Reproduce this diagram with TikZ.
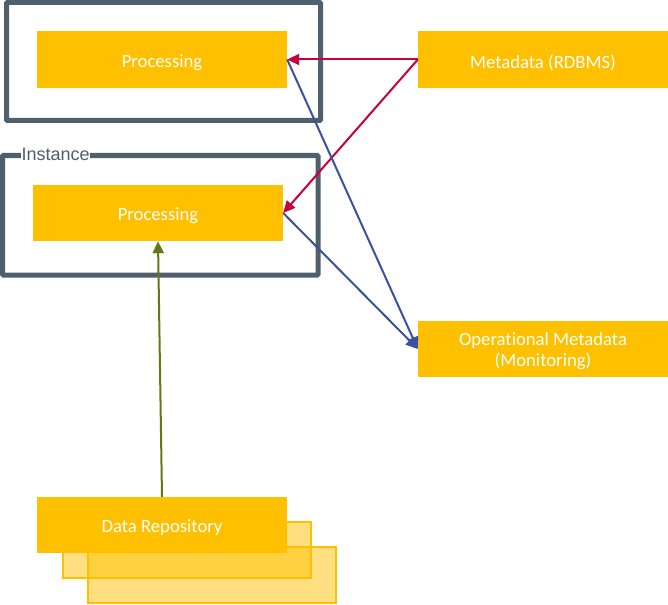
\documentclass[tikz,border=0pt]{standalone}
\usepackage{fontspec}
\setmainfont{Carlito}[Ligatures=NoCommon]
\newfontfamily\arialfont{Liberation Sans}
\usetikzlibrary{arrows.meta}
\definecolor{gold}{HTML}{FFC000}
\definecolor{slate}{HTML}{4F5F6B}
\definecolor{redarr}{RGB}{200,0,60}
\definecolor{bluearr}{RGB}{60,80,160}
\definecolor{greenarr}{RGB}{100,120,20}
\newcommand\lowtext[1]{\raisebox{-3pt}[\height][\depth]{#1}}
\tikzset{
  procbox/.style={fill=gold, draw=none, minimum width=250pt, minimum height=57pt, inner sep=0pt,
    text=white, font=\fontsize{18.7}{22}\selectfont},
  stackbox/.style={fill=gold, fill opacity=0.5, draw=gold, line width=1.5pt},
  frame/.style={draw=slate, line width=5pt, rounded corners=1pt},
  conn/.style={line width=2pt, -{Triangle[length=12pt,width=11pt]}},
}
\begin{document}
\begin{tikzpicture}[x=1pt,y=-1pt]
\useasboundingbox (0,0) rectangle (668,604);
% frames
\draw[frame] (6.5,2.5) rectangle (320.5,120.5);
\draw[frame] (2.5,155.5) rectangle (318,275);
\node[anchor=west, fill=white, inner sep=0.5pt, text=slate, font=\arialfont\fontsize{18}{20}\selectfont] (inst) at (21,154) {Instance};
% stacked back boxes
\draw[stackbox] (88,547) rectangle (336,603);
\draw[stackbox] (63,522) rectangle (311,578);
% nodes
\node[procbox] (p1) at (162,59.5) {\lowtext{Processing}};
\node[procbox, minimum height=56pt] (p2) at (158,213) {\lowtext{Processing}};
\node[procbox] (meta) at (543,59.5) {\lowtext{Metadata (RDBMS)}};
\node[procbox, minimum height=56pt] (ops) at (543,349) {\lowtext{\begin{tabular}{@{}c@{}}Operational Metadata\\[-1pt](Monitoring)\end{tabular}}};
\node[procbox, minimum height=56pt] (dr) at (162,525) {\lowtext{Data Repository}};
% connectors
\draw[conn, redarr] (meta.west) -- (p1.east);
\draw[conn, redarr] (meta.west) -- (p2.east);
\draw[conn, bluearr] (p1.east) -- (ops.west);
\draw[conn, bluearr] (p2.east) -- (ops.west);
\draw[conn, greenarr] (dr.north) -- (p2.south);
\end{tikzpicture}
\end{document}
